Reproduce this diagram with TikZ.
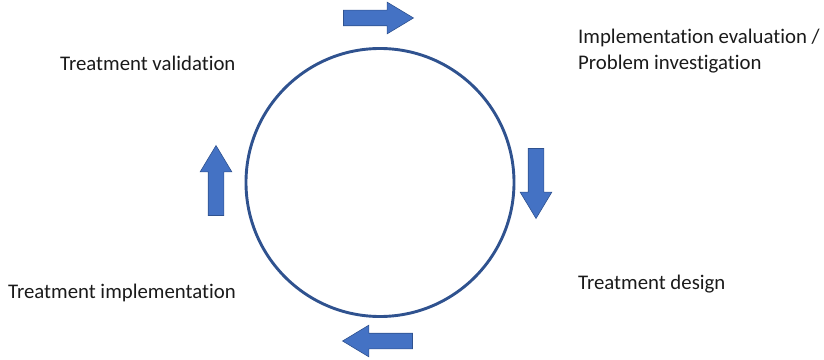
\documentclass[tikz,border=0pt]{standalone}
\usepackage{fontspec}
\setmainfont[Ligatures=NoCommon]{Carlito}
\usetikzlibrary{shapes.arrows}
\definecolor{CycleBlue}{HTML}{4472C4}
\definecolor{CycleEdge}{HTML}{2F528F}
\definecolor{CycleText}{HTML}{1A1A1A}
\tikzset{
  flow/.style={single arrow,fill=CycleBlue,draw=CycleEdge,line width=0.6pt,
    minimum height=70pt,minimum width=0pt,inner sep=7.5pt,
    single arrow head extend=8pt,single arrow tip angle=62},
  phase/.style={anchor=west,text=CycleText,font=\fontsize{20.8}{26}\selectfont,
    align=left,inner sep=0pt}
}
\begin{document}
\begin{tikzpicture}[x=1pt,y=1pt]
  \useasboundingbox (0,0) rectangle (824,359);
  % the cycle
  \draw[CycleEdge,line width=2.9pt] (380,176.5) circle (134);
  % direction arrows
  \node[flow] (toright) at (372,341) {};
  \node[flow,shape border rotate=270] (todown) at (536,182) {};
  \node[flow,shape border rotate=180] (toleft) at (384,18) {};
  \node[flow,shape border rotate=90] (toup) at (216,172) {};
  % phases
  \node[phase] (evaluation) at (578,308) {Implementation evaluation /\\Problem investigation};
  \node[phase] (design) at (578,75) {Treatment design};
  \node[phase] (implementation) at (8,66) {Treatment implementation};
  \node[phase] (validation) at (60,296) {Treatment validation};
\end{tikzpicture}
\end{document}
